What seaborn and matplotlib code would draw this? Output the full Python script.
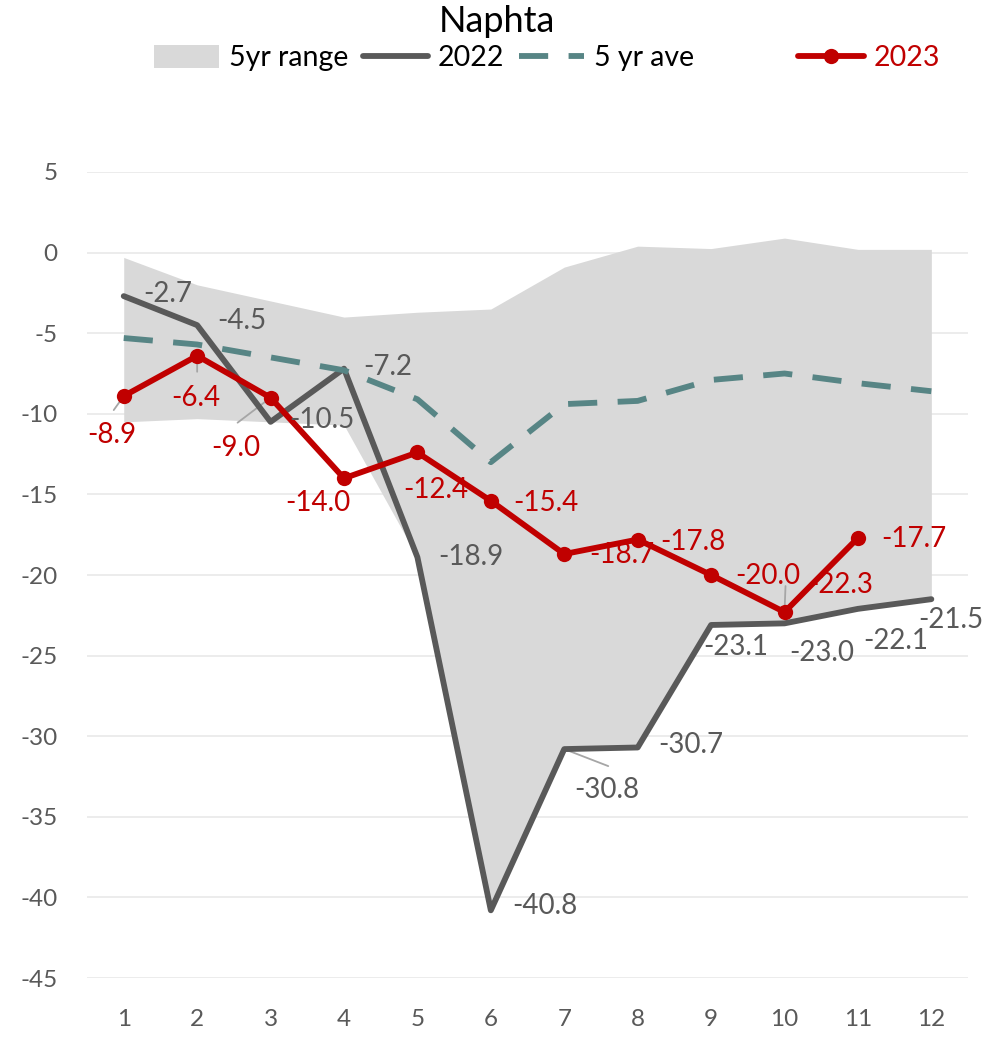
import matplotlib
matplotlib.use("Agg")
import matplotlib.pyplot as plt
import seaborn as sns
import pandas as pd
from matplotlib.patches import Patch
from matplotlib.lines import Line2D

# Monthly naphtha values
months = list(range(1, 13))
range_high = [-0.3, -2.0, -3.0, -4.0, -3.7, -3.5, -0.9, 0.4, 0.25, 0.9, 0.2, 0.2]
range_low = [-10.5, -10.3, -10.5, -10.7, -18.9, -40.8, -30.8, -30.7, -23.1, -23.0, -22.1, -21.5]
ave_5yr = [-5.3, -5.7, -6.5, -7.3, -9.1, -13.0, -9.4, -9.2, -7.9, -7.5, -8.1, -8.6]
y2022 = [-2.7, -4.5, -10.5, -7.2, -18.9, -40.8, -30.8, -30.7, -23.1, -23.0, -22.1, -21.5]
months_2023 = list(range(1, 12))
y2023 = [-8.9, -6.4, -9.0, -14.0, -12.4, -15.4, -18.7, -17.8, -20.0, -22.3, -17.7]
y_ticks = [5, 0, -5, -10, -15, -20, -25, -30, -35, -40, -45]

C_RANGE = "#D9D9D9"
C_2022 = "#595959"
C_AVE = "#578585"
C_2023 = "#C00000"
C_TEXT = "#595959"
LW = 4.2

sns.set_theme(style="white")
plt.rcParams["font.family"] = ["Lato", "DejaVu Sans"]
plt.rcParams["axes.unicode_minus"] = False

fig = plt.figure(figsize=(9.98, 10.38), dpi=100)
ax = fig.add_axes([0.0872, 0.0578, 0.8828, 0.7765])

df22 = pd.DataFrame({"month": months, "value": y2022})
dfave = pd.DataFrame({"month": months, "value": ave_5yr})
df23 = pd.DataFrame({"month": months_2023, "value": y2023})

ax.fill_between(months, range_low, range_high, color=C_RANGE, linewidth=0, zorder=1)
sns.lineplot(data=df22, x="month", y="value", ax=ax, color=C_2022, linewidth=LW,
             zorder=3)
sns.lineplot(data=dfave, x="month", y="value", ax=ax, color=C_AVE, linewidth=LW,
             zorder=4)
ax.lines[-1].set_dashes([5, 3.5])
sns.lineplot(data=df23, x="month", y="value", ax=ax, color=C_2023, linewidth=LW,
             marker="o", markersize=11, markeredgewidth=0, zorder=5)

ax.set_xlim(0.5, 12.5)
ax.set_ylim(-45, 5)
ax.set_xticks(months)
ax.set_yticks(y_ticks)
ax.set_xlabel("")
ax.set_ylabel("")
ax.grid(axis="y", color="#EBEBEB", linewidth=1.3, zorder=0)
ax.grid(axis="x", visible=False)
for s in ax.spines.values():
    s.set_visible(False)
ax.tick_params(axis="both", length=0, labelsize=17.5, labelcolor=C_TEXT)
ax.tick_params(axis="y", pad=21)
ax.tick_params(axis="x", pad=22)
ax.set_axisbelow(True)

# data labels: text offsets (pixels) and optional leader-line end offsets
off22 = [(44, 2), (45, 4), (51, 2), (44, 2), (53, 0), (54, 4), (43, -41),
         (53, 2), (25, -22), (37, -30), (38, -32), (19, -21)]
lead22 = [None] * 6 + [(44, -17)] + [None] * 5
off23 = [(-12, -39), (-1, -42), (-35, -50), (-26, -25), (18, -38), (55, -2),
         (58, -1), (55, -2), (57, -1), (56, 27), (56, -1)]
lead23 = [(-10, -14), (0, -16), (-33, -25), None, None, None, None, None, None,
          (1, 26), None]


def label_series(xs, ys, offs, leads, color):
    for x, y, (dx, dy), lead in zip(xs, ys, offs, leads):
        ax.annotate(f"{y:.1f}", xy=(x, y), xytext=(dx, dy), textcoords="offset pixels",
                    ha="center", va="center", fontsize=20, color=color, zorder=6,
                    annotation_clip=False)
        if lead is not None:
            ax.annotate("", xy=(x, y), xytext=lead, textcoords="offset pixels",
                        arrowprops=dict(arrowstyle="-", color="#A6A6A6", lw=1.3,
                                        shrinkA=0, shrinkB=0), zorder=2)


label_series(months, y2022, off22, lead22, C_2022)
label_series(months_2023, y2023, off23, lead23, C_2023)

fig.text(0.498, 0.979, "Naphta", ha="center", va="center", fontsize=26, color="black")

handles = [
    Patch(facecolor=C_RANGE, edgecolor="none"),
    Line2D([], [], color=C_2022, linewidth=LW),
    Line2D([], [], color=C_AVE, linewidth=LW, dashes=[5, 3.5]),
    Line2D([], [], color="none"),
    Line2D([], [], color=C_2023, linewidth=LW, marker="o", markersize=11, markeredgewidth=0),
]
labels = ["5yr range", "2022", "5 yr ave", "", "2023"]
leg = fig.legend(handles, labels, loc="center", bbox_to_anchor=(0.548, 0.944), ncol=5,
                 frameon=False, fontsize=20.5, handlelength=2.3, handletextpad=0.35,
                 columnspacing=0.5, handleheight=0.9, borderpad=0, borderaxespad=0)
for t, c in zip(leg.get_texts(), ["black", "black", "black", "black", C_2023]):
    t.set_color(c)

fig.savefig("out.png", dpi=100)
